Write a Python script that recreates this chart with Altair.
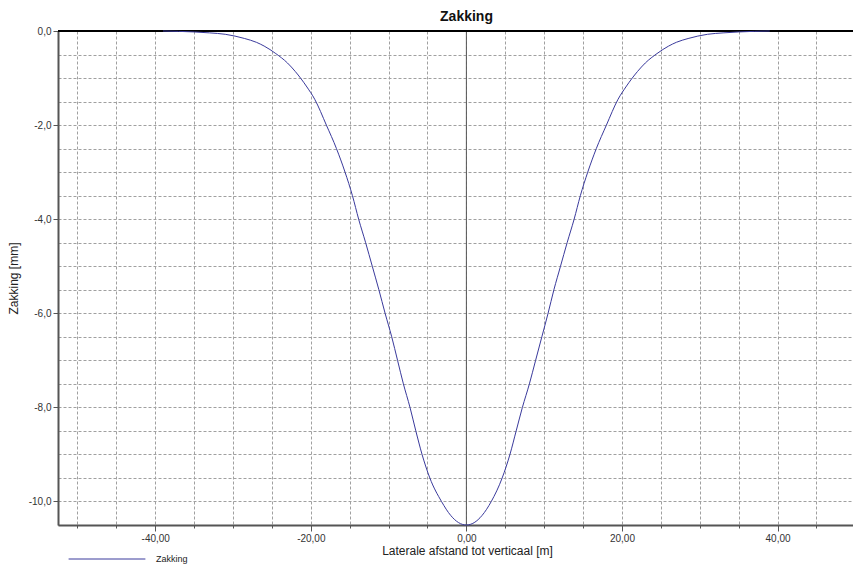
import altair as alt
import pandas as pd

# (lateral distance [m], settlement [mm])
x_left = [-39.0, -35.0, -33.0, -31.0, -28.5, -27.0, -26.0, -24.5, -23.0, -22.0, -20.5,
          -19.5, -18.0, -16.7, -15.6, -14.65, -13.85, -12.95, -12.1, -11.25, -10.45,
          -9.6, -8.85, -8.1, -7.25, -6.5, -5.7, -4.7, -3.2, -2.0, -1.0]
y_left = [0.0, -0.02, -0.04, -0.07, -0.16, -0.24, -0.32, -0.48, -0.68, -0.86, -1.19,
          -1.45, -2.0, -2.5, -3.0, -3.5, -4.0, -4.5, -5.0, -5.5, -6.0,
          -6.5, -7.0, -7.5, -8.0, -8.5, -9.0, -9.5, -10.0, -10.3, -10.45]
x_mid = [0.0]
y_mid = [-10.5]
x_right = [1.0, 2.0, 3.2, 4.6, 5.6, 6.4, 7.2, 8.1, 8.9, 9.7, 10.5, 11.25, 12.1,
           12.95, 13.85, 14.65, 15.6, 16.7, 18.0, 19.5, 20.5, 22.0, 23.0, 24.5, 26.0,
           27.0, 28.5, 31.0, 33.0, 35.0, 39.0]
y_right = [-10.45, -10.3, -10.0, -9.5, -9.0, -8.5, -8.0, -7.5, -7.0, -6.5, -6.0, -5.5, -5.0,
           -4.5, -4.0, -3.5, -3.0, -2.5, -2.0, -1.45, -1.19, -0.86, -0.68, -0.48, -0.32,
           -0.24, -0.16, -0.07, -0.04, -0.02, 0.0]

series_name = "Zakking"
x_grid = [v * 5 for v in range(-10, 11)]
y_grid = [v * 0.5 for v in range(-21, 1)]
x_labels = [-40, -20, 0, 20, 40]
y_labels = [-10, -8, -6, -4, -2, 0]

df = pd.DataFrame({
    "x": x_left + x_mid + x_right,
    "y": y_left + y_mid + y_right,
    "series": series_name,
})

XDOM = [-52.5, 49.7]
YDOM = [-10.5, 0.0]
xs = alt.Scale(domain=XDOM, nice=False, zero=False)
ys = alt.Scale(domain=YDOM, nice=False, zero=False)
GRID = "#a0a0a0"
AX = "#555555"
FONT = "Liberation Sans"

base = alt.Chart(df)

grid = base.mark_point(opacity=0).encode(
    x=alt.X("x:Q", scale=xs, axis=alt.Axis(values=x_grid, grid=True, gridColor=GRID,
            gridDash=[3, 2], gridWidth=1, gridOpacity=1, labels=False, domain=False,
            ticks=True, tickSize=3, tickColor=AX, title=None, orient="bottom")),
    y=alt.Y("y:Q", scale=ys, axis=alt.Axis(values=y_grid, grid=True, gridColor=GRID,
            gridDash=[3, 2], gridWidth=1, gridOpacity=1, labels=False, domain=False,
            ticks=False, title=None, orient="left")),
)

xlab = "(datum.value < 0 ? '-' : '') + replace(format(abs(datum.value), '.2f'), '.', ',')"
ylab = "(datum.value < 0 ? '-' : '') + replace(format(abs(datum.value), '.1f'), '.', ',')"

line = base.mark_line(color="#3a3a9c", strokeWidth=1, interpolate="monotone").encode(
    x=alt.X("x:Q", scale=xs, axis=alt.Axis(values=x_labels, grid=False, labelExpr=xlab,
            domain=True, domainColor=AX, domainWidth=2, tickColor=AX, tickSize=6,
            labelFontSize=10, labelColor="#333333", labelFont=FONT, labelPadding=2,
            title="Laterale afstand tot verticaal [m]", titleFont=FONT, titleFontSize=12,
            titleFontWeight="normal", titleColor="#222222", titlePadding=2,
            titleX=409, orient="bottom")),
    y=alt.Y("y:Q", scale=ys, axis=alt.Axis(values=y_labels, grid=False, labelExpr=ylab,
            domain=True, domainColor=AX, domainWidth=2, tickColor=AX, tickSize=5,
            labelFontSize=10, labelColor="#333333", labelFont=FONT, labelPadding=2,
            title="Zakking [mm]", titleFont=FONT, titleFontSize=12,
            titleFontWeight="normal", titleColor="#222222", titlePadding=8,
            orient="left")),
    color=alt.Color("series:N", scale=alt.Scale(range=["#3a3a9c"]),
                    legend=alt.Legend(title=None, orient="none", legendX=10, legendY=489,
                                      symbolType="stroke", symbolSize=5900,
                                      symbolStrokeWidth=1, labelFontSize=9,
                                      labelFont=FONT, labelColor="#222222",
                                      labelOffset=10, padding=0)),
)

zero_df = pd.DataFrame({"v": [0.0]})
hzero = alt.Chart(zero_df).mark_rule(color="#000000", strokeWidth=2).encode(
    y=alt.Y("v:Q", scale=ys, axis=None))
vzero = alt.Chart(zero_df).mark_rule(color="#555555", strokeWidth=1).encode(
    x=alt.X("v:Q", scale=xs, axis=None))

chart = alt.layer(grid, vzero, hzero, line).resolve_axis(
    x="independent", y="independent"
).properties(
    width=795, height=494,
    title=alt.TitleParams("Zakking", fontSize=14, font=FONT, fontWeight="bold",
                          color="#111111", anchor="middle", dx=11, offset=2),
    autosize=alt.AutoSizeParams(type="none"),
    padding={"left": 50, "top": 23, "right": 0, "bottom": 41},
).configure_view(stroke=None).configure(background="white")

chart.save("out.html", embed_options={"renderer": "svg", "actions": False})
